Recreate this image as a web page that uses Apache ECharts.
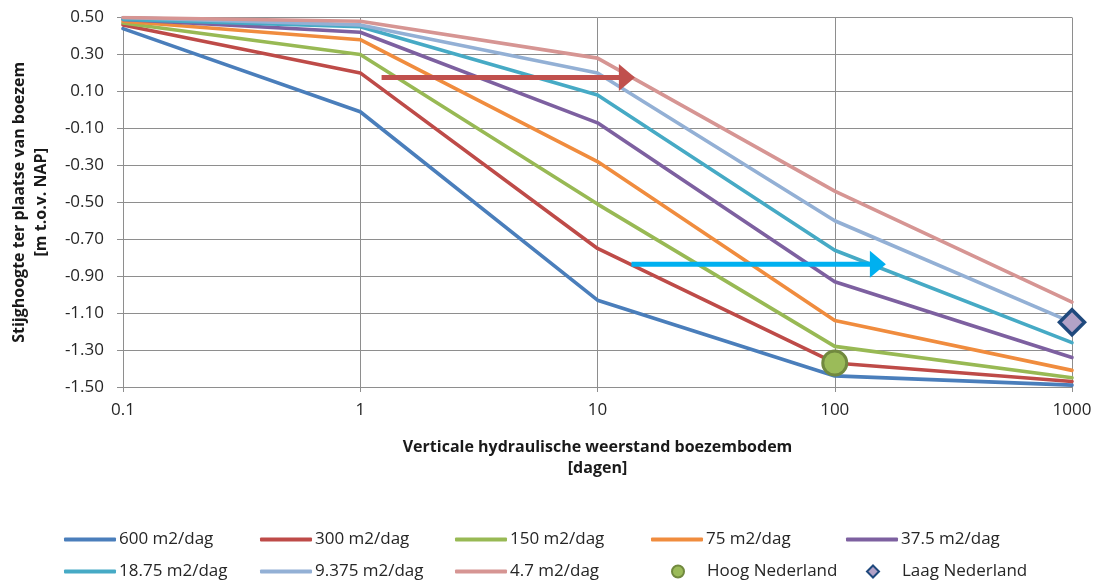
<!DOCTYPE html>
<html>
<head>
<meta charset="utf-8">
<script src="https://cdn.jsdelivr.net/npm/echarts@6/dist/echarts.min.js"></script>
<style>
  html, body { margin: 0; padding: 0; background: #ffffff; }
  #chart { width: 1099px; height: 585px; }
</style>
</head>
<body>
<div id="chart"></div>
<script>
// Vertical hydraulic resistance of the canal bed [days] (log scale)
const resistance = [0.1, 1, 10, 100, 1000];

// Head at the canal for each transmissivity [m t.o.v. NAP]
const t600   = [0.44, -0.01, -1.03, -1.44, -1.49];
const t300   = [0.46,  0.20, -0.75, -1.37, -1.47];
const t150   = [0.47,  0.30, -0.51, -1.28, -1.45];
const t75    = [0.48,  0.38, -0.28, -1.14, -1.41];
const t37_5  = [0.49,  0.42, -0.07, -0.93, -1.34];
const t18_75 = [0.49,  0.45,  0.08, -0.76, -1.26];
const t9_375 = [0.50,  0.46,  0.20, -0.60, -1.15];
const t4_7   = [0.50,  0.48,  0.28, -0.44, -1.04];

const lineNames = ['600 m2/dag', '300 m2/dag', '150 m2/dag', '75 m2/dag', '37.5 m2/dag',
                   '18.75 m2/dag', '9.375 m2/dag', '4.7 m2/dag'];
const lineValues = [t600, t300, t150, t75, t37_5, t18_75, t9_375, t4_7];

// Reference situations
const hoogNederland = [[100, -1.37]];
const laagNederland = [[1000, -1.15]];

// Arrows indicating the shift between situations (start, centre of head)
const redArrow  = [[1.23, 0.175], [13.3, 0.175]];
const blueArrow = [[13.9, -0.835], [152, -0.835]];

// Y tick labels
const yTicks = [-1.5, -1.3, -1.1, -0.9, -0.7, -0.5, -0.3, -0.1, 0.1, 0.3, 0.5];

const lineColors = ['#4A7EBB', '#BE4B48', '#98B954', '#F08C3E', '#7D60A0',
                    '#46AAC5', '#93B0D5', '#D69593'];

const FONT = 'Open Sans';
const gridColor = '#8e8e8e';

const series = lineNames.map((name, i) => ({
  type: 'line',
  name: name,
  data: resistance.map((x, j) => [x, lineValues[i][j]]),
  symbol: 'none',
  showSymbol: false,
  lineStyle: { width: 3.6, color: lineColors[i], join: 'round', cap: 'round' },
  itemStyle: { color: lineColors[i] },
  z: 2 + i,
  animation: false
}));

series.push({
  type: 'scatter',
  name: 'Hoog Nederland',
  data: hoogNederland,
  symbol: 'circle',
  symbolSize: 24,
  itemStyle: { color: '#9BBB59', borderColor: '#71893F', borderWidth: 3, opacity: 1 },
  z: 20,
  animation: false
});
series.push({
  type: 'scatter',
  name: 'Laag Nederland',
  data: laagNederland,
  symbol: 'diamond',
  symbolSize: 25,
  symbolKeepAspect: true,
  itemStyle: { color: '#B3A2C7', borderColor: '#1F497D', borderWidth: 3.5, opacity: 1 },
  z: 20,
  animation: false
});

// Straight arrow: a thick shaft plus a wide triangular head turned to point right
function arrowSeries(name, pts, color) {
  return [{
    type: 'line',
    name: name,
    data: pts,
    symbol: 'none',
    silent: true,
    lineStyle: { color: color, width: 5, cap: 'butt' },
    itemStyle: { color: color },
    z: 30,
    animation: false
  }, {
    type: 'scatter',
    name: name + ' kop',
    data: [pts[1]],
    symbol: 'triangle',
    symbolSize: [27, 16],
    symbolRotate: -90,
    silent: true,
    itemStyle: { color: color, opacity: 1 },
    z: 31,
    animation: false
  }];
}
series.push(...arrowSeries('pijl rood', redArrow, '#C0504D'));
series.push(...arrowSeries('pijl blauw', blueArrow, '#00B0F0'));

// Legend laid out as a 5-column grid
const legendCols = [64, 260, 455, 651, 846];
const legendRows = [531, 563];
const legendOrder = lineNames.concat(['Hoog Nederland', 'Laag Nederland']);
const legendTextStyle = { fontFamily: FONT, fontSize: 17, color: '#262626' };
const legends = legendOrder.map((name, k) => {
  const col = k % 5, row = Math.floor(k / 5);
  if (k < 8) {
    return {
      data: [name],
      left: legendCols[col],
      top: legendRows[row],
      padding: 0,
      icon: 'roundRect',
      itemWidth: 52,
      itemHeight: 4,
      selectedMode: false,
      textStyle: Object.assign({ padding: [0, 0, 0, -2] }, legendTextStyle)
    };
  }
  // marker entries: small symbol centred in the column's icon slot
  return {
    data: [{ name: name, icon: k === 8 ? 'circle' : 'diamond' }],
    left: legendCols[col] + 20,
    top: legendRows[row],
    padding: 0,
    itemWidth: 12,
    itemHeight: 12,
    selectedMode: false,
    textStyle: Object.assign({ padding: [0, 0, 0, 18] }, legendTextStyle)
  };
});

const chart = echarts.init(document.getElementById('chart'), null, { renderer: 'canvas' });
chart.setOption({
  backgroundColor: '#ffffff',
  animation: false,
  textStyle: { fontFamily: FONT },
  grid: { left: 122.7, right: 27, top: 17.5, bottom: 198, containLabel: false },
  legend: legends,
  xAxis: {
    type: 'log',
    logBase: 10,
    min: 0.1,
    max: 1000,
    name: 'Verticale hydraulische weerstand boezembodem\n[dagen]',
    nameLocation: 'middle',
    nameGap: 50,
    nameTextStyle: { fontFamily: FONT, fontSize: 16, fontWeight: 'bold', color: '#1a1a1a', lineHeight: 21 },
    axisLine: { show: true, onZero: false, lineStyle: { color: gridColor, width: 1 } },
    axisTick: { show: true, inside: false, length: 5, lineStyle: { color: gridColor } },
    axisLabel: {
      margin: 15,
      fontFamily: FONT, fontSize: 17, color: '#262626',
      formatter: v => String(+v.toPrecision(3))
    },
    splitLine: { show: true, lineStyle: { color: gridColor, width: 1 } },
    minorTick: { show: false },
    minorSplitLine: { show: false }
  },
  yAxis: {
    type: 'value',
    min: -1.5,
    max: 0.5,
    name: 'Stijghoogte ter plaatse van boezem\n[m t.o.v. NAP]',
    nameLocation: 'middle',
    nameRotate: 90,
    nameGap: 71,
    nameTextStyle: { fontFamily: FONT, fontSize: 16, fontWeight: 'bold', color: '#1a1a1a', lineHeight: 22 },
    axisLine: { show: true, onZero: false, lineStyle: { color: gridColor, width: 1 } },
    axisTick: { show: true, inside: false, length: 6, customValues: yTicks, lineStyle: { color: gridColor } },
    axisLabel: {
      margin: 19,
      customValues: yTicks,
      fontFamily: FONT, fontSize: 17, color: '#262626',
      formatter: v => v.toFixed(2)
    },
    splitLine: { show: true, lineStyle: { color: gridColor, width: 1 } }
  },
  series: series
});
</script>
</body>
</html>
